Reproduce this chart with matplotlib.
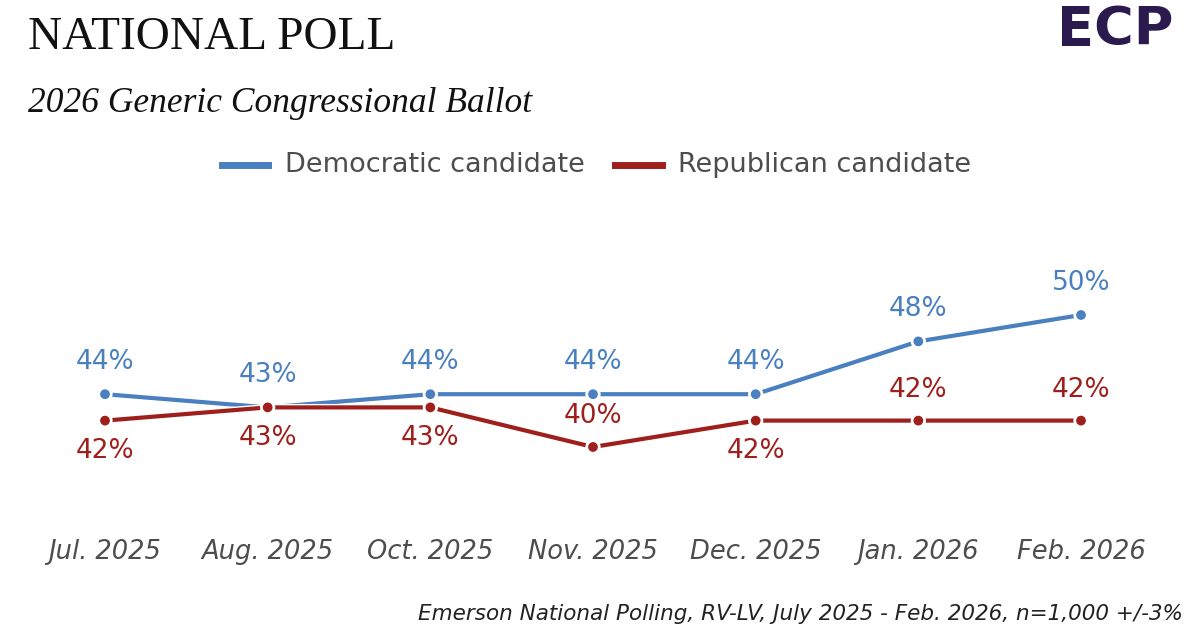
import matplotlib.pyplot as plt
import matplotlib.patheffects as pe
from matplotlib.transforms import blended_transform_factory

months = ['Jul. 2025', 'Aug. 2025', 'Oct. 2025', 'Nov. 2025', 'Dec. 2025', 'Jan. 2026', 'Feb. 2026']
dem = [44, 43, 44, 44, 44, 48, 50]
rep = [42, 43, 43, 40, 42, 42, 42]
# where the red labels sit: 1 above the point, -1 below
rep_side = [-1, -1, -1, 1, -1, 1, 1]

blue = '#4a80bf'
red = '#9e1f1c'
sans = ['DejaVu Sans']
serif = ['Liberation Serif', 'DejaVu Serif']

fig = plt.figure(figsize=(11.99, 6.37), dpi=100)
W, H = 1199, 637
ax = fig.add_axes([105 / W, 1 - 447 / H, (1081 - 105) / W, (447 - 315) / H])
ax.set_xlim(0, len(months) - 1)
ax.set_ylim(40, 50)
ax.axis('off')

x = list(range(len(months)))
stroke = [pe.Stroke(linewidth=5, foreground='white'), pe.Normal()]
ax.plot(x, dem, color=blue, lw=3, marker='o', ms=6, clip_on=False, path_effects=stroke, zorder=3)
ax.plot(x, rep, color=red, lw=3, marker='o', ms=6, clip_on=False, path_effects=stroke, zorder=3)

for i in x:
    ax.annotate(f'{dem[i]}%', (i, dem[i]), xytext=(0, 23), textcoords='offset points',
                ha='center', va='center', color=blue, fontsize=19, family=sans)
    ax.annotate(f'{rep[i]}%', (i, rep[i]), xytext=(0, 22 * rep_side[i]), textcoords='offset points',
                ha='center', va='center', color=red, fontsize=19, family=sans)

tr = blended_transform_factory(ax.transData, fig.transFigure)
for i, m in enumerate(months):
    ax.text(i, 1 - 552 / H, m, transform=tr, ha='center', va='center', fontsize=18.5,
            style='italic', color='#4d4d4d', family=sans)

# titles
fig.text(28 / W, 1 - 38 / H, 'NATIONAL POLL', fontsize=34, family=serif, color='#111111', va='center')
fig.text(28 / W, 1 - 104 / H, '2026 Generic Congressional Ballot', fontsize=25.5, family=serif,
         style='italic', color='#111111', va='center')

# legend
ly = 1 - 165 / H
fig.add_artist(plt.Line2D([222 / W, 268 / W], [ly, ly], color=blue, lw=5))
fig.text(285 / W, ly, 'Democratic candidate', fontsize=19.5, family=sans,
         color='#4d4d4d', va='center')
fig.add_artist(plt.Line2D([615 / W, 662 / W], [ly, ly], color=red, lw=5))
fig.text(678 / W, ly, 'Republican candidate', fontsize=19.5, family=sans,
         color='#4d4d4d', va='center')

# footer
fig.text(1183 / W, 1 - 614 / H, 'Emerson National Polling, RV-LV, July 2025 - Feb. 2026, n=1,000 +/-3%',
         fontsize=15.5, family=sans, style='italic', color='#222222',
         ha='right', va='center')

# logo
fig.text(1115 / W, 1 - 30 / H, 'ECP', fontsize=39, family=sans, weight='bold', color='#2b1a4e',
         ha='center', va='center')

fig.savefig('out.png', dpi=100, facecolor='white')
